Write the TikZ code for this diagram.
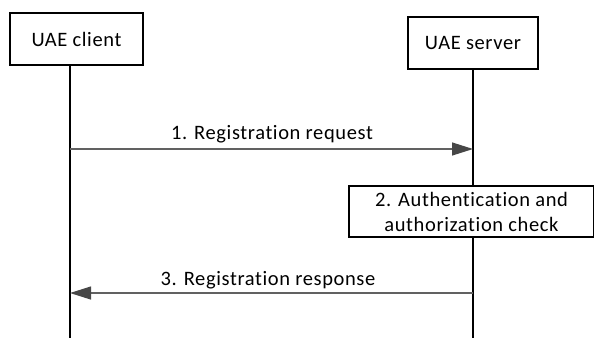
\documentclass[tikz,border=0pt]{standalone}
\usepackage{fontspec}
\setmainfont{Carlito}[LetterSpace=3, Ligatures={NoCommon}]
\usetikzlibrary{arrows.meta}

\tikzset{
  entity/.style={draw=black, line width=1.3pt, minimum width=133pt, minimum height=52pt, inner sep=0pt},
  lifeline/.style={line width=1.2pt, black},
  msg/.style={line width=1.2pt, black!62, -{Triangle[length=21pt, width=13pt, fill=black!72, color=black!72]}},
  checkbox/.style={draw=black, line width=1.1pt, minimum width=245pt, minimum height=51pt, inner sep=0pt, align=center},
  lbl/.style={inner sep=0pt, anchor=base}
}

\begin{document}
\begin{tikzpicture}[x=1pt, y=-1pt, font=\fontsize{20.5}{25}\selectfont]
  % page size
  \useasboundingbox (0,0) rectangle (594,338);

  % entities
  \node[entity] (client) at (76.5,39) {UAE client};
  \node[entity, minimum width=130pt] (server) at (473,43) {UAE server};

  % lifeline ends
  \coordinate (clienttop) at (70,65);
  \coordinate (clientend) at (70,338);
  \coordinate (serverend) at (473,338);

  % 2. check at the server
  \node[checkbox] (check) at (471.5,211.5) {2. Authentication and\\authorization check};

  % lifelines
  \draw[lifeline] (clienttop) -- (clientend);
  \draw[lifeline] (server.south) -- (check.north -| server.south);
  \draw[lifeline] (check.south -| server.south) -- (serverend);

  % message points
  \coordinate (req1) at (70,149);
  \coordinate (req2) at (473,149);
  \coordinate (resp1) at (473,293);
  \coordinate (resp2) at (70,293);

  % messages
  \draw[msg] (req1) -- (req2);
  \node[lbl] (reqlabel) at (272,139) {1. Registration request};
  \draw[msg] (resp1) -- (resp2);
  \node[lbl] (resplabel) at (268,285) {3. Registration response};
\end{tikzpicture}
\end{document}
